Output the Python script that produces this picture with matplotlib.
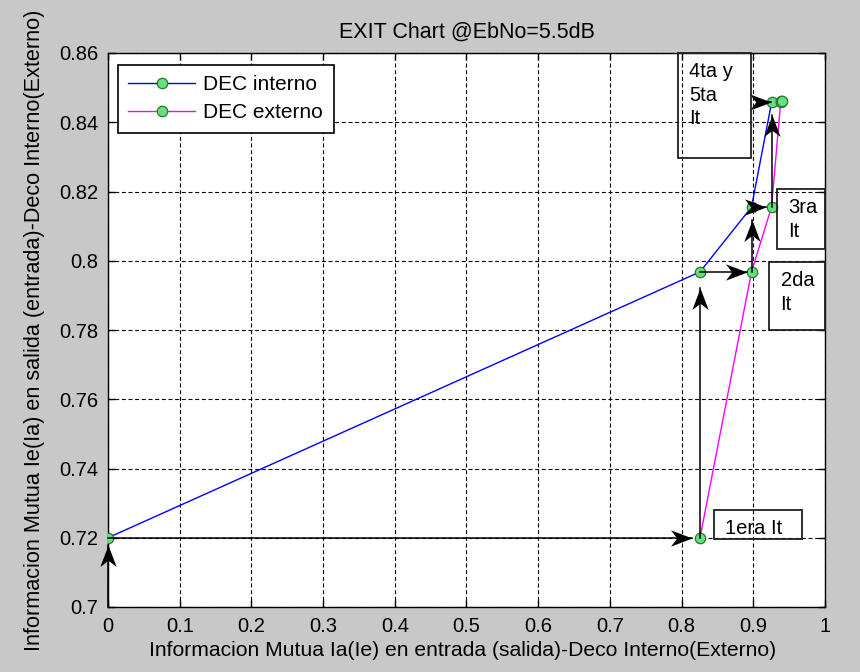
import numpy as np
import matplotlib
matplotlib.use("Agg")
import matplotlib.pyplot as plt
from matplotlib.path import Path
from matplotlib.markers import MarkerStyle
from matplotlib.transforms import Affine2D
from matplotlib.patches import Rectangle

plt.rcParams['font.family'] = ['Liberation Sans', 'DejaVu Sans']

# ---------------- data ----------------
interno_x = [0.0, 0.8257, 0.8975, 0.9257, 0.9380]
interno_y = [0.7200, 0.7968, 0.8155, 0.8459, 0.8460]
externo_x = [0.8257, 0.8975, 0.9254, 0.9382, 0.9395]
externo_y = [0.7200, 0.7968, 0.8155, 0.8459, 0.8460]

# trajectory arrows (tail -> tip)
arrow_x0 = [0.0, 0.0, 0.8257, 0.8257, 0.8975, 0.8975, 0.9254, 0.905]
arrow_y0 = [0.700, 0.720, 0.720, 0.7968, 0.7968, 0.8155, 0.8155, 0.8459]
arrow_x1 = [0.0, 0.815, 0.8257, 0.891, 0.8975, 0.918, 0.9254, 0.925]
arrow_y1 = [0.718, 0.720, 0.792, 0.7968, 0.8118, 0.8155, 0.842, 0.8459]

# annotation text boxes: (label, x0, y0, x1, y1) in data units
box_labels = ['4ta y\n5ta\nIt', '3ra\nIt', '2da\nIt', '1era It']
box_x0 = [0.795, 0.933, 0.922, 0.845]
box_y0 = [0.8297, 0.8034, 0.7800, 0.7196]
box_x1 = [0.897, 1.000, 1.000, 0.968]
box_y1 = [0.8600, 0.8207, 0.7996, 0.7280]

xticks = np.round(np.arange(0, 1.0001, 0.1), 1)
xticklabels = ['0', '0.1', '0.2', '0.3', '0.4', '0.5', '0.6', '0.7', '0.8', '0.9', '1']
yticks = np.round(np.arange(0.70, 0.8601, 0.02), 2)
yticklabels = ['0.7', '0.72', '0.74', '0.76', '0.78', '0.8', '0.82', '0.84', '0.86']

FS = 14.5
bg = '#c8c8c8'
mfc = '#66e07c'
mec = '#237a2e'

fig = plt.figure(figsize=(8.6, 6.72), dpi=100, facecolor=bg)
ax = fig.add_axes([108/860, 1-607/672, (825-108)/860, (607-53)/672])
ax.set_xlim(0, 1)
ax.set_ylim(0.70, 0.86)
ax.set_xticks(xticks)
ax.set_xticklabels(xticklabels, fontsize=FS)
ax.set_yticks(yticks)
ax.set_yticklabels(yticklabels, fontsize=FS)
ax.tick_params(direction='in', length=5, width=1, top=True, right=True, pad=7, colors='k')
for s in ax.spines.values():
    s.set_linewidth(1.0)
    s.set_color('k')
ax.grid(True, color='k', linestyle=(0, (3.6, 2.4)), linewidth=0.8)
ax.set_axisbelow(True)

ax.plot(interno_x, interno_y, '-', color='#0000ff', lw=1.0, marker='o', ms=7.5,
        mfc=mfc, mec=mec, mew=0.9, label='DEC interno', zorder=3)
ax.plot(externo_x, externo_y, '-', color='#ff00ff', lw=1.0, marker='o', ms=7.5,
        mfc=mfc, mec=mec, mew=0.9, label='DEC externo', zorder=3)

# arrows with MATLAB-like 'vback2' heads
head = Path([(0, 0), (-1, 0.38), (-0.71, 0), (-1, -0.38), (0, 0)],
            [Path.MOVETO, Path.LINETO, Path.LINETO, Path.LINETO, Path.CLOSEPOLY])
for x0, y0, x1, y1 in zip(arrow_x0, arrow_y0, arrow_x1, arrow_y1):
    p0 = ax.transData.transform((x0, y0))
    p1 = ax.transData.transform((x1, y1))
    ang = np.degrees(np.arctan2(p1[1]-p0[1], p1[0]-p0[0]))
    ax.plot([x0, x1], [y0, y1], color='k', lw=1.1, zorder=5, clip_on=False)
    ms_ = MarkerStyle(head, transform=Affine2D().rotate_deg(ang))
    ax.plot([x1], [y1], linestyle='none', marker=ms_, ms=31, color='k', mew=0,
            zorder=6, clip_on=False)

# text boxes
for lab, x0, y0, x1, y1 in zip(box_labels, box_x0, box_y0, box_x1, box_y1):
    ax.add_patch(Rectangle((x0, y0), x1-x0, y1-y0, fill=False, ec='#202020',
                           lw=1.3, zorder=7, clip_on=False))
    ax.text(x0 + 0.016, y1 - 0.0026, lab, fontsize=FS, ha='left', va='top',
            linespacing=1.3, zorder=8, clip_on=False)

leg = ax.legend(loc='upper left', bbox_to_anchor=((118-108)/717, 1-(65-53)/554),
                borderaxespad=0, prop={'size': 15}, fancybox=False, framealpha=1,
                edgecolor='k', handlelength=3.2, handletextpad=0.4,
                labelspacing=0.42, borderpad=0.5)
leg.get_frame().set_linewidth(1.2)
leg.set_zorder(10)

ax.set_title('EXIT Chart @EbNo=5.5dB', fontsize=15.5, pad=11)
ax.set_xlabel('Informacion Mutua Ia(Ie) en entrada (salida)-Deco Interno(Externo)', fontsize=15.2)
ax.set_ylabel('Informacion Mutua Ie(Ia) en salida (entrada)-Deco Interno(Externo)', fontsize=15.6)
ax.xaxis.set_label_coords(0.495, -0.062)
ax.yaxis.set_label_coords(-0.088, 0.5)

fig.savefig('out.png', dpi=100, facecolor=bg)
